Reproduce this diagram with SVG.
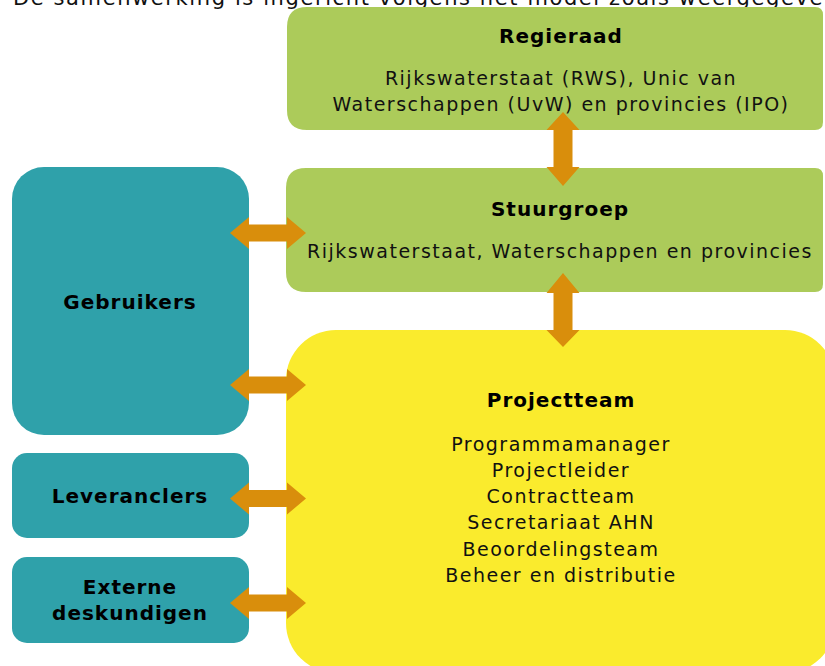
<svg xmlns="http://www.w3.org/2000/svg" width="825" height="666" viewBox="0 0 825 666">
<style>
.t{font-family:"DejaVu Sans","Liberation Sans",sans-serif;font-size:19px;fill:#111;text-anchor:middle;letter-spacing:1.5px}
.b{font-family:"DejaVu Sans","Liberation Sans",sans-serif;font-size:20px;font-weight:bold;fill:#000;text-anchor:middle;letter-spacing:1px}
.g{fill:#ACCB5A}
.c{fill:#2FA1AA}
.y{fill:#FAEB2D}
.a{fill:#D98E0C}
</style>
<rect x="0" y="0" width="825" height="666" fill="#fff"/>
<text x="13" y="4.5" font-family="DejaVu Sans,sans-serif" font-size="21" letter-spacing="1.6" fill="#111">De samenwerking is ingericht volgens het model zoals weergegeve</text>
<g id="regieraad">
<path class="g" d="M307,7 H815 Q823,7 823,15 V122 Q823,130 815,130 H307 Q287,130 287,110 V27 Q287,7 307,7 Z"/>
<text class="b" x="561" y="43">Regieraad</text>
<text class="t" x="561" y="85">Rijkswaterstaat (RWS), Unic van</text>
<text class="t" x="561" y="111">Waterschappen (UvW) en provincies (IPO)</text>
</g>
<g id="stuurgroep">
<path class="g" d="M306,168 H815 Q823,168 823,176 V284 Q823,292 815,292 H306 Q286,292 286,272 V188 Q286,168 306,168 Z"/>
<text class="b" x="560" y="216">Stuurgroep</text>
<text class="t" x="560" y="258">Rijkswaterstaat, Waterschappen en provincies</text>
</g>
<g id="projectteam">
<rect class="y" x="286" y="330" width="549" height="343" rx="50"/>
<text class="b" x="561" y="407">Projectteam</text>
<text class="t" x="561" y="451">Programmamanager</text>
<text class="t" x="561" y="477">Projectleider</text>
<text class="t" x="561" y="503">Contractteam</text>
<text class="t" x="561" y="529">Secretariaat AHN</text>
<text class="t" x="561" y="556">Beoordelingsteam</text>
<text class="t" x="561" y="582">Beheer en distributie</text>
</g>
<g id="gebruikers">
<rect class="c" x="12" y="167" width="237" height="268" rx="32"/>
<text class="b" x="130" y="309">Gebruikers</text>
</g>
<g id="leveranciers">
<rect class="c" x="12" y="453" width="237" height="85" rx="15"/>
<text class="b" x="130" y="503">Leveranclers</text>
</g>
<g id="externe">
<rect class="c" x="12" y="557" width="237" height="86" rx="15"/>
<text class="b" x="130" y="594">Externe</text>
<text class="b" x="130" y="620">deskundigen</text>
</g>
<g id="connectors">
<polygon class="a" transform="translate(0,233)" points="230,0 249,-16 249,-8.5 287,-8.5 287,-16 306,0 287,16 287,8.5 249,8.5 249,16"/>
<polygon class="a" transform="translate(0,385)" points="230,0 249,-16 249,-8.5 287,-8.5 287,-16 306,0 287,16 287,8.5 249,8.5 249,16"/>
<polygon class="a" transform="translate(0,498.5)" points="230,0 249,-16 249,-8.5 287,-8.5 287,-16 306,0 287,16 287,8.5 249,8.5 249,16"/>
<polygon class="a" transform="translate(0,603)" points="230,0 249,-16 249,-8.5 287,-8.5 287,-16 306,0 287,16 287,8.5 249,8.5 249,16"/>
<polygon class="a" points="563,112 579.5,130 572.5,130 572.5,167 579.5,167 563,186 546.5,167 553.5,167 553.5,130 546.5,130"/>
<polygon class="a" points="563,273 579.5,293 572.5,293 572.5,330 579.5,330 563,347 546.5,330 553.5,330 553.5,293 546.5,293"/>
</g>
</svg>
